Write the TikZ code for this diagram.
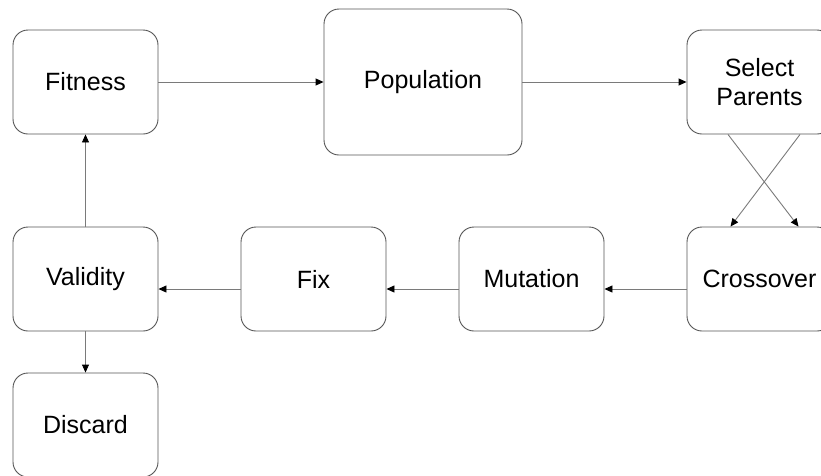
\documentclass[tikz,border=0pt]{standalone}
\usepackage{fontspec}
\setmainfont{Liberation Sans}
\usetikzlibrary{arrows.meta}
\definecolor{boxline}{HTML}{555555}
\definecolor{conn}{HTML}{7A7A7A}
\tikzset{
  box/.style={draw=boxline, line width=0.9pt, rounded corners=15pt, minimum width=145pt, minimum height=104pt, inner sep=0pt, align=center, font=\fontsize{25}{29}\selectfont, fill=white},
  bigbox/.style={box, minimum width=198pt, minimum height=146pt},
  conn/.style={draw=conn, line width=0.9pt, -{Triangle[length=8pt,width=7pt,fill=black,color=black]}}
}
\begin{document}
\begin{tikzpicture}[x=1pt,y=-1pt]
\useasboundingbox (0,0) rectangle (821,475);
\node[box] (fit) at (85.5,82) {Fitness};
\node[bigbox] (pop) at (423,82) {Population};
\node[box] (sel) at (759.5,82) {Select\\Parents};
\node[box] (val) at (85.5,279) {Validity};
\node[box] (fix) at (313.5,279) {Fix};
\node[box] (mut) at (531.5,279) {Mutation};
\node[box] (cro) at (759.5,279) {Crossover};
\node[box] (dis) at (85.5,425) {Discard};
\draw[conn] (fit.east) -- (pop.west);
\draw[conn] (pop.east) -- (sel.west);
\draw[conn] ([xshift=-31.5pt]sel.south) -- ([xshift=39pt]cro.north);
\draw[conn] ([xshift=40.5pt]sel.south) -- ([xshift=-29pt]cro.north);
\draw[conn] ([yshift=-10pt]cro.west) -- ([yshift=-10pt]mut.east);
\draw[conn] ([yshift=-10pt]mut.west) -- ([yshift=-10pt]fix.east);
\draw[conn] ([yshift=-10pt]fix.west) -- ([yshift=-10pt]val.east);
\draw[conn] (val.north) -- (fit.south);
\draw[conn] (val.south) -- (dis.north);
\end{tikzpicture}
\end{document}
